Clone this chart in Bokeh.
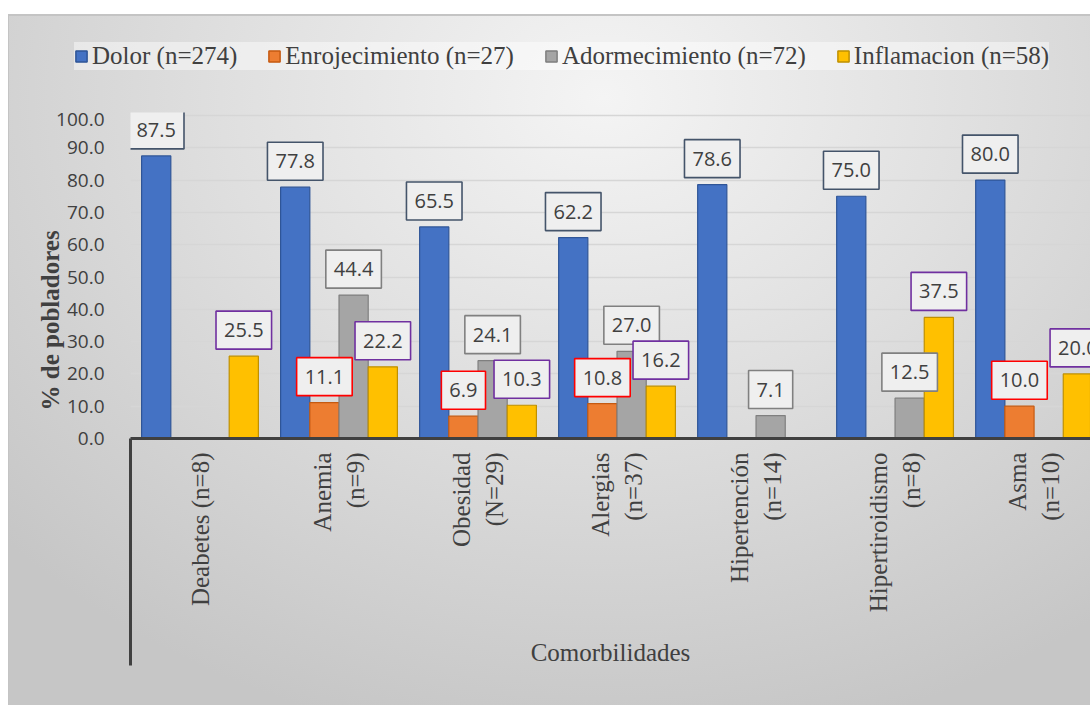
import math
from bokeh.plotting import figure
from bokeh.models import (ColumnDataSource, Range1d, FixedTicker, NumeralTickFormatter,
                          Legend, LegendItem, Spacer)
from bokeh.transform import dodge
from bokeh.layouts import column, row
from bokeh.embed import file_html
from bokeh.resources import INLINE
from bokeh.core.properties import value

# ---------------- data ----------------
categories = ["Deabetes (n=8)", "Anemia\n(n=9)", "Obesidad\n(N=29)", "Alergias\n(n=37)",
              "Hipertención\n(n=14)", "Hipertiroidismo\n(n=8)", "Asma\n(n=10)"]
series_names = ["Dolor (n=274)", "Enrojecimiento (n=27)", "Adormecimiento (n=72)", "Inflamacion (n=58)"]
dolor = [87.5, 77.8, 65.5, 62.2, 78.6, 75.0, 80.0]
enrojecimiento = [None, 11.1, 6.9, 10.8, None, None, 10.0]
adormecimiento = [None, 44.4, 24.1, 27.0, 7.1, 12.5, None]
inflamacion = [25.5, 22.2, 10.3, 16.2, None, 37.5, 20.0]
y_ticks = [0, 10, 20, 30, 40, 50, 60, 70, 80, 90, 100]

series_values = [dolor, enrojecimiento, adormecimiento, inflamacion]
fill_colors = ["#4472C4", "#ED7D31", "#A5A5A5", "#FFC000"]
line_colors = ["#2F5597", "#C55A11", "#7F7F7F", "#BF9000"]
box_colors = ["#44546A", "#FF0000", "#808080", "#7030A0"]
offsets = [-0.315, -0.105, 0.105, 0.315]

SERIF = "Liberation Serif"
SANS = "Open Sans"
TXT = "#404040"
W = 1082
NAN = float("nan")

# ---------------- legend strip ----------------
lf = figure(width=W, height=98, output_backend="svg", toolbar_location=None,
            x_range=Range1d(0, 1), y_range=Range1d(0, 1),
            x_axis_location=None, y_axis_location=None,
            min_border_left=0, min_border_right=0, min_border_top=0, min_border_bottom=0)
lf.border_fill_color = None
lf.background_fill_color = None
lf.outline_line_color = None
lf.xgrid.grid_line_color = None
lf.ygrid.grid_line_color = None
leg_renderers = [lf.vbar(x=[NAN], top=[NAN], width=0.1, fill_color=fc, line_color=lc, line_width=1.5)
                 for fc, lc in zip(fill_colors, line_colors)]
legend = Legend(items=[LegendItem(label=n, renderers=[r]) for n, r in zip(series_names, leg_renderers)],
                orientation="horizontal", location=(66, 42),
                glyph_width=14, glyph_height=14, label_standoff=4, spacing=30, padding=14,
                background_fill_color="white", background_fill_alpha=0.45,
                border_line_color=None, margin=0,
                label_text_font=SERIF, label_text_font_size="25px", label_text_color=TXT)
lf.add_layout(legend)

# ---------------- main chart ----------------
p = figure(width=W, height=593, output_backend="svg", toolbar_location=None,
           x_range=Range1d(0, 6.906), y_range=Range1d(0, 100.93),
           min_border_left=122, min_border_right=0, min_border_top=0, min_border_bottom=267,
           title="% de pobladores", title_location="left")
p.border_fill_color = None
p.background_fill_color = None
p.outline_line_color = None

p.title.align = "left"
p.title.offset = 28
p.title.standoff = -20
p.title.text_font = SERIF
p.title.text_font_size = "25px"
p.title.text_font_style = "bold"
p.title.text_color = TXT

cat_pos = [i + 0.5 for i in range(len(categories))]

for vals, off, fc, lc in zip(series_values, offsets, fill_colors, line_colors):
    tops = [NAN if v is None else v for v in vals]
    src = ColumnDataSource(dict(x=cat_pos, top=tops))
    p.vbar(x=dodge("x", off), top="top", width=0.21, source=src,
           fill_color=fc, line_color=lc, line_width=1.2)

for vals, off, bc in zip(series_values, offsets, box_colors):
    lx = [c for c, v in zip(cat_pos, vals) if v is not None]
    ly = [v for v in vals if v is not None]
    lt = ["%.1f" % v for v in vals if v is not None]
    lsrc = ColumnDataSource(dict(x=lx, y=ly, t=lt))
    p.text(x=dodge("x", off), y="y", text="t", source=lsrc,
           text_font=value(SANS), text_font_size=value("20px"), text_color=TXT,
           text_align="center", text_baseline="bottom", y_offset=-7,
           border_line_color=bc, border_line_width=1.6,
           background_fill_color="#efefef",
           padding=dict(left=8, right=8, top=12, bottom=12))

# axes
xa = p.xaxis[0]
xa.ticker = FixedTicker(ticks=cat_pos, minor_ticks=[0])
xa.major_label_overrides = {c: lab for c, lab in zip(cat_pos, categories)}
xa.major_label_orientation = math.pi / 2
xa.major_label_text_align = "center"
xa.major_tick_out = 0
xa.major_tick_in = 0
xa.minor_tick_out = 227
xa.minor_tick_in = 0
xa.minor_tick_line_width = 3
xa.minor_tick_line_color = TXT
xa.axis_line_width = 3
xa.axis_line_color = TXT
xa.major_label_standoff = 14 - 227
xa.major_label_text_font = SERIF
xa.major_label_text_font_size = "25px"
xa.major_label_text_color = TXT
xa.axis_label = "Comorbilidades"
xa.axis_label_text_font = SERIF
xa.axis_label_text_font_size = "25px"
xa.axis_label_text_font_style = "normal"
xa.axis_label_text_color = TXT
xa.axis_label_standoff = 24

ya = p.yaxis[0]
ya.ticker = FixedTicker(ticks=y_ticks)
ya.formatter = NumeralTickFormatter(format="0.0")
ya.axis_line_color = None
ya.major_tick_line_color = None
ya.minor_tick_line_color = None
ya.major_label_standoff = 20
ya.major_label_text_font = SANS
ya.major_label_text_font_size = "19px"
ya.major_label_text_color = TXT

p.xgrid.grid_line_color = None
p.ygrid.ticker = FixedTicker(ticks=y_ticks)
p.ygrid.grid_line_color = "#d6d6d6"
p.ygrid.grid_line_width = 1.5

chart = column(row(lf, spacing=0), row(p, spacing=0), spacing=0, styles={
    "background-image": "radial-gradient(ellipse 75% 95% at 55% 12%, #f4f4f4 0%, #e0e0e0 45%, #c6c6c6 100%)",
    "box-shadow": "inset 1px 2px 0 #c4c4c4"})
layout = column(Spacer(width=1090, height=14), row(Spacer(width=8, height=691), chart))
open("out.html", "w").write(file_html(layout, INLINE))
